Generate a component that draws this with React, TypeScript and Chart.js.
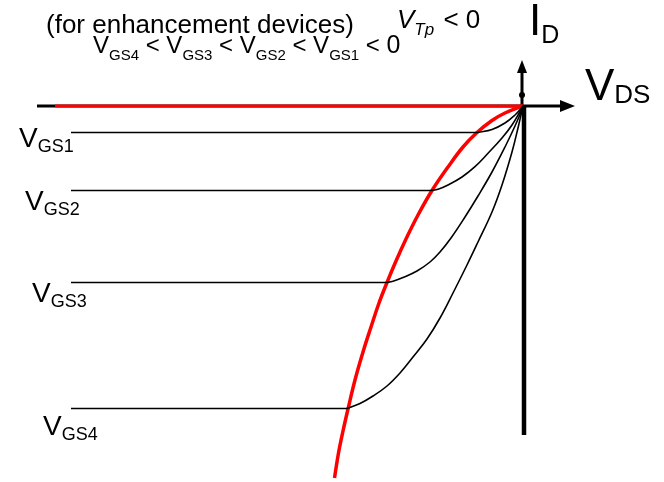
import React, { useEffect, useRef } from "react";
import { Chart, registerables } from "chart.js";

Chart.register(...registerables);

// Output characteristics of an enhancement-mode p-channel MOSFET.
// V_DS and I_D are in arbitrary units; the origin is where the curves meet.
const VGS_LABELS = ["GS1", "GS2", "GS3", "GS4"];

// Saturation current for each gate voltage and where its plateau is drawn from
const SAT_CURRENT = [-0.265, -0.845, -1.765, -3.025];
const PLATEAU_START = -4.52;

// Triode-region curves, from the pinch-off point to the origin
const VGS1_TRIODE: [number, number][] = [
  [-0.45, -0.265], [-0.31, -0.235], [-0.18, -0.17],
  [-0.08, -0.09], [-0.02, -0.025], [0, 0],
];
const VGS2_TRIODE: [number, number][] = [
  [-0.92, -0.845], [-0.85, -0.833], [-0.75, -0.79], [-0.61, -0.71],
  [-0.48, -0.607], [-0.35, -0.473], [-0.21, -0.32], [-0.11, -0.19],
  [-0.03, -0.055], [0, 0],
];
const VGS3_TRIODE: [number, number][] = [
  [-1.37, -1.765], [-1.3, -1.752], [-1.2, -1.715], [-1.06, -1.65],
  [-0.93, -1.56], [-0.83, -1.46], [-0.72, -1.32], [-0.58, -1.11],
  [-0.45, -0.9], [-0.31, -0.66], [-0.18, -0.41], [-0.08, -0.2],
  [-0.02, -0.06], [0, 0],
];
const VGS4_TRIODE: [number, number][] = [
  [-1.76, -3.025], [-1.63, -2.975], [-1.5, -2.9], [-1.36, -2.8],
  [-1.23, -2.67], [-1.1, -2.51], [-0.96, -2.33], [-0.83, -2.12],
  [-0.7, -1.87], [-0.56, -1.59], [-0.45, -1.36], [-0.31, -1.06],
  [-0.21, -0.79], [-0.11, -0.46], [-0.05, -0.22], [0, 0],
];

// Saturation boundary |V_DS| = |V_GS - V_Tp| and the cut-off region along I_D = 0
const SAT_BOUNDARY: [number, number][] = [
  [0, 0], [-0.18, -0.07], [-0.31, -0.145], [-0.46, -0.265],
  [-0.6, -0.41], [-0.75, -0.61], [-0.91, -0.845], [-1.05, -1.09],
  [-1.17, -1.33], [-1.27, -1.55], [-1.36, -1.765], [-1.44, -1.97],
  [-1.52, -2.21], [-1.6, -2.46], [-1.68, -2.74], [-1.75, -3.03],
  [-1.8, -3.25], [-1.845, -3.47], [-1.885, -3.72],
];
const CUTOFF_LINE: [number, number][] = [[-4.68, 0], [0, 0]];

// Axis extents
const VDS_AXIS = [-4.86, 0.52];
const ID_AXIS = [-3.29, 0.46];

const FONT = '"Liberation Sans", Arial, "DejaVu Sans", sans-serif';

const toPoints = (pts: [number, number][]) => pts.map(([x, y]) => ({ x, y }));

const axesPlugin = {
  id: "mosAxes",
  beforeDatasetsDraw(chart: any) {
    const { ctx, scales } = chart;
    const xs = scales.x;
    const ys = scales.y;
    const ox = xs.getPixelForValue(0);
    const oy = ys.getPixelForValue(0);
    const xl = xs.getPixelForValue(VDS_AXIS[0]);
    const xr = xs.getPixelForValue(VDS_AXIS[1]);
    const yt = ys.getPixelForValue(ID_AXIS[1]);
    const yb = ys.getPixelForValue(ID_AXIS[0]);
    ctx.save();
    ctx.strokeStyle = "#000";
    ctx.fillStyle = "#000";
    // V_DS axis
    ctx.lineWidth = 3;
    ctx.beginPath();
    ctx.moveTo(xl, oy);
    ctx.lineTo(xr - 12, oy);
    ctx.stroke();
    ctx.beginPath();
    ctx.moveTo(xr, oy);
    ctx.lineTo(xr - 15, oy - 6);
    ctx.lineTo(xr - 15, oy + 6);
    ctx.closePath();
    ctx.fill();
    // I_D axis, heavier below the origin
    ctx.lineWidth = 3;
    ctx.beginPath();
    ctx.moveTo(ox - 1, oy);
    ctx.lineTo(ox - 1, yt + 10);
    ctx.stroke();
    ctx.beginPath();
    ctx.moveTo(ox - 1, yt);
    ctx.lineTo(ox - 6, yt + 13);
    ctx.lineTo(ox + 4, yt + 13);
    ctx.closePath();
    ctx.fill();
    ctx.beginPath();
    ctx.arc(ox - 1, oy - 11, 3, 0, Math.PI * 2);
    ctx.fill();
    ctx.lineWidth = 4.5;
    ctx.beginPath();
    ctx.moveTo(ox + 1, oy);
    ctx.lineTo(ox + 1, yb);
    ctx.stroke();
    ctx.restore();
  },
};

function drawSub(
  ctx: CanvasRenderingContext2D,
  main: string,
  sub: string,
  x: number,
  y: number,
  mainSize: number,
  subSize: number,
  subDrop: number,
  italic = false
) {
  const style = italic ? "italic " : "";
  ctx.font = `${style}${mainSize}px ${FONT}`;
  ctx.fillText(main, x, y);
  const w = ctx.measureText(main).width;
  ctx.font = `${style}${subSize}px ${FONT}`;
  ctx.fillText(sub, x + w, y + subDrop);
  return x + w + ctx.measureText(sub).width;
}

const labelPlugin = {
  id: "mosLabels",
  afterDraw(chart: any) {
    const { ctx } = chart;
    ctx.save();
    ctx.fillStyle = "#000";
    ctx.textBaseline = "alphabetic";
    ctx.textAlign = "left";

    ctx.font = `26px ${FONT}`;
    ctx.fillText("(for enhancement devices)", 46, 33);

    // V_Tp < 0
    let x = drawSub(ctx, "V", "Tp", 397, 28, 26, 17, 7, true);
    ctx.font = `26px ${FONT}`;
    ctx.fillText(" < 0", x + 2, 28);

    // V_GS4 < V_GS3 < V_GS2 < V_GS1 < 0
    x = 93;
    const order = [3, 2, 1, 0];
    order.forEach((i) => {
      x = drawSub(ctx, "V", VGS_LABELS[i], x, 53, 24, 15, 7);
      ctx.font = `24px ${FONT}`;
      const sep = " < ";
      ctx.fillText(sep, x, 53);
      x += ctx.measureText(sep).width;
    });
    ctx.font = `25px ${FONT}`;
    ctx.fillText("0", x, 53);

    // Axis titles
    drawSub(ctx, "I", "D", 529, 35, 44, 25, 8);
    drawSub(ctx, "V", "DS", 585, 100, 44, 26, 3);

    // Gate-voltage labels beside each plateau
    const pos = [
      [19, 147],
      [25, 210],
      [32, 302],
      [43, 435],
    ];
    pos.forEach(([px, py], i) => {
      drawSub(ctx, "V", VGS_LABELS[i], px, py, 28, 18, 5);
    });
    ctx.restore();
  },
};

export default function App() {
  const canvasRef = useRef<HTMLCanvasElement | null>(null);

  useEffect(() => {
    const canvas = canvasRef.current;
    if (!canvas) return;
    const curve = (
      pts: [number, number][],
      color: string,
      width: number,
      tension: number
    ) => ({
      data: toPoints(pts),
      borderColor: color,
      backgroundColor: color,
      borderWidth: width,
      showLine: true,
      pointRadius: 0,
      tension,
      clip: false as const,
      fill: false,
    });
    const triodes = [VGS1_TRIODE, VGS2_TRIODE, VGS3_TRIODE, VGS4_TRIODE];
    const plateaus = SAT_CURRENT.map((id, i) =>
      curve(
        [
          [PLATEAU_START, id],
          [triodes[i][0][0], id],
        ],
        "#000",
        1.6,
        0
      )
    );
    const chart = new Chart(canvas, {
      type: "scatter",
      data: {
        datasets: [
          ...plateaus,
          ...triodes.map((t) => curve(t, "#000", 1.6, 0.4)),
          curve(CUTOFF_LINE, "#ff0000", 3, 0),
          curve(SAT_BOUNDARY, "#ff0000", 3.5, 0.4),
        ],
      },
      options: {
        animation: false,
        responsive: false,
        maintainAspectRatio: false,
        layout: { padding: 0 },
        events: [],
        plugins: {
          legend: { display: false },
          tooltip: { enabled: false },
          title: { display: false },
        },
        scales: {
          x: { type: "linear", min: -5.23, max: 1.41, display: false },
          y: { type: "linear", min: -3.76, max: 1.06, display: false },
        },
      },
      plugins: [axesPlugin, labelPlugin],
    });
    return () => chart.destroy();
  }, []);

  return (
    <div
      style={{
        position: "absolute",
        left: 0,
        top: 0,
        width: 664,
        height: 482,
        background: "#fff",
      }}
    >
      <canvas ref={canvasRef} width={664} height={482} />
    </div>
  );
}
